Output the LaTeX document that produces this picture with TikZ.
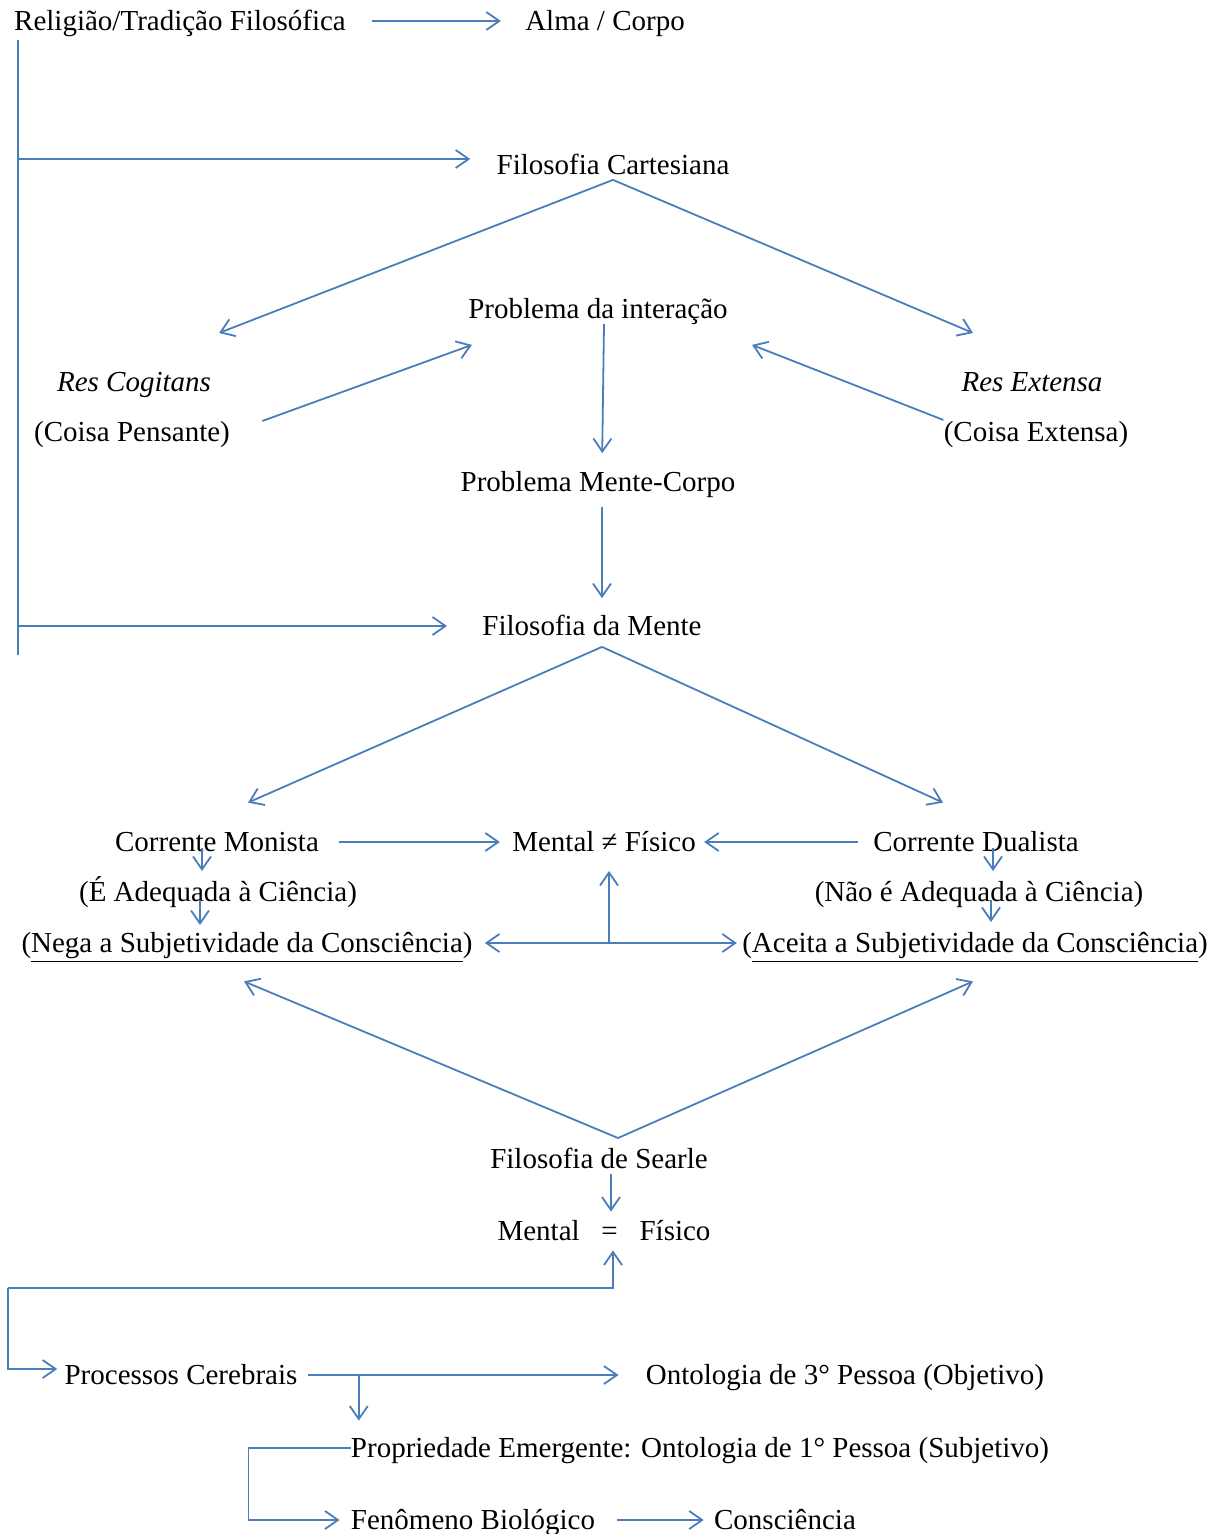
\documentclass[tikz,border=0pt]{standalone}
\usepackage{fontspec}
\setmainfont{Liberation Serif}
\usetikzlibrary{arrows.meta}
\definecolor{linkblue}{HTML}{4A7EBB}

\begin{document}
\begin{tikzpicture}[x=0.5pt, y=-0.5pt,
	term/.style={inner sep=0pt, text height=12pt, text depth=2.5pt, font=\fontsize{14.5}{17}\selectfont},
	link/.style={draw=linkblue, line width=0.9pt},
	flow/.style={link, -{Straight Barb[length=6.5pt, width=9pt]}}]
	\useasboundingbox (0,0) rectangle (1223,1534);

	\node[term] (religiao) at (180,21) {Religião/Tradição Filosófica};
	\node[term] (alma) at (605,21) {Alma / Corpo};
	\node[term] (cartesiana) at (613,165) {Filosofia Cartesiana};
	\node[term] (interacao) at (598,309) {Problema da interação};
	\node[term] (cogitans) at (134,382) {\itshape Res Cogitans};
	\node[term] (pensante) at (132,432) {(Coisa Pensante)};
	\node[term] (extensa) at (1032,382) {\itshape Res Extensa};
	\node[term] (coisaext) at (1036,432) {(Coisa Extensa)};
	\node[term] (mentecorpo) at (598,482) {Problema Mente-Corpo};
	\node[term] (mente) at (592,626) {Filosofia da Mente};
	\node[term] (monista) at (217,842) {Corrente Monista};
	\node[term] (diferente) at (604,842) {Mental ≠ Físico};
	\node[term] (dualista) at (976,842) {Corrente Dualista};
	\node[term] (adequada) at (218,892) {(É Adequada à Ciência)};
	\node[term] (naoadequada) at (979,892) {(Não é Adequada à Ciência)};
	\node[term] (nega) at (247,943) {(\underline{Nega a Subjetividade da Consciência})};
	\node[term] (aceita) at (975,943) {(\underline{Aceita a Subjetividade da Consciência})};
	\node[term] (searle) at (599,1159) {Filosofia de Searle};
	\node[term] (igual) at (604,1231) {Mental\hspace{0.75em}=\hspace{0.75em}Físico};
	\node[term] (processos) at (181,1375) {Processos Cerebrais};
	\node[term] (ontologia) at (845,1375) {Ontologia de 3° Pessoa (Objetivo)};
	\node[term] (propriedade) at (700,1448) {Propriedade Emergente: Ontologia de 1° Pessoa (Subjetivo)};
	\node[term] (fenomeno) at (473,1520) {Fenômeno Biológico};
	\node[term] (consciencia) at (785,1520) {Consciência};

	\coordinate (tronco) at (18,40);
	\coordinate (troncofim) at (18,655);
	\coordinate (juncao) at (609,943);
	\coordinate (laco) at (8,1288);
	\coordinate (ramo) at ([xshift=30.5pt]processos.east);

	\draw[flow, shorten <=13pt, shorten >=12pt] (religiao.east) -- (alma.west);
	\draw[link] (tronco) -- (troncofim);
	\draw[flow, shorten >=13pt] ([yshift=3pt]cartesiana.west -| tronco) -- ([yshift=3pt]cartesiana.west);
	\draw[flow, shorten >=17.5pt] (mente.west -| tronco) -- (mente.west);

	\draw[flow] (cartesiana.south) -- ([shift={(85,-49)}]cogitans.center);
	\draw[flow] (cartesiana.south) -- ([shift={(-59,-49)}]extensa.center);
	\draw[flow] ([shift={(32,-11)}]pensante.east) -- ([shift={(4,21)}]interacao.south west);
	\draw[flow] ([yshift=6pt]coisaext.west) -- ([shift={(24,21)}]interacao.south east);
	\draw[flow, shorten >=7pt] ([xshift=3pt]interacao.south) -- ([xshift=2pt]mentecorpo.north);
	\draw[flow, shorten <=5pt, shorten >=6.5pt] ([xshift=2pt]mentecorpo.south) -- ([xshift=2pt]mentecorpo.south |- mente.north);

	\draw[flow] ([shift={(10,6)}]mente.south) -- ([shift={(31,-24.5)}]monista.north);
	\draw[flow] ([shift={(10,6)}]mente.south) -- ([shift={(-33,-24.5)}]dualista.north);
	\draw[flow, shorten <=10pt, shorten >=6pt] (monista.east) -- (diferente.west);
	\draw[flow, shorten <=7.5pt, shorten >=4pt] (dualista.west) -- (diferente.east);
	\draw[flow] ([shift={(-15,6)}]monista.center) -- ([shift={(-16,-21)}]adequada.center);
	\draw[flow] ([shift={(-18,8)}]adequada.center) -- ([shift={(-47,-18)}]nega.center);
	\draw[flow] ([shift={(17,6)}]dualista.center) -- ([shift={(14,-21)}]naoadequada.center);
	\draw[flow] ([shift={(12,8)}]naoadequada.center) -- ([shift={(16,-21)}]aceita.center);
	\draw[flow, shorten >=7pt] (juncao) -- ([xshift=2.5pt]diferente.south);
	\draw[flow, shorten >=6pt] (juncao) -- (nega.east);
	\draw[flow, shorten >=2.5pt] (juncao) -- (aceita.west);

	\draw[flow] ([shift={(19,-21)}]searle.center) -- ([shift={(-3,23.5)}]nega.south);
	\draw[flow] ([shift={(19,-21)}]searle.center) -- ([shift={(-2,23.5)}]aceita.south);
	\draw[flow, shorten >=2.25pt] ([xshift=6pt]searle.south) -- ([xshift=3.5pt]igual.north);

	\draw[flow, shorten >=2.25pt] (laco) -| ([xshift=4.5pt]igual.south);
	\draw[flow, shorten >=3.5pt] (laco) |- ([yshift=3pt]processos.west);
	\draw[flow, shorten <=5pt, shorten >=13.5pt] (processos.east) -- (ontologia.west);
	\draw[flow, shorten >=6.25pt] (ramo) -- (ramo |- propriedade.north);
	\draw[flow, shorten >=5.5pt] (propriedade.west) -- ++(-102,0) |- (fenomeno.west);
	\draw[flow, shorten <=11pt, shorten >=5pt] (fenomeno.east) -- (consciencia.west);
\end{tikzpicture}
\end{document}
